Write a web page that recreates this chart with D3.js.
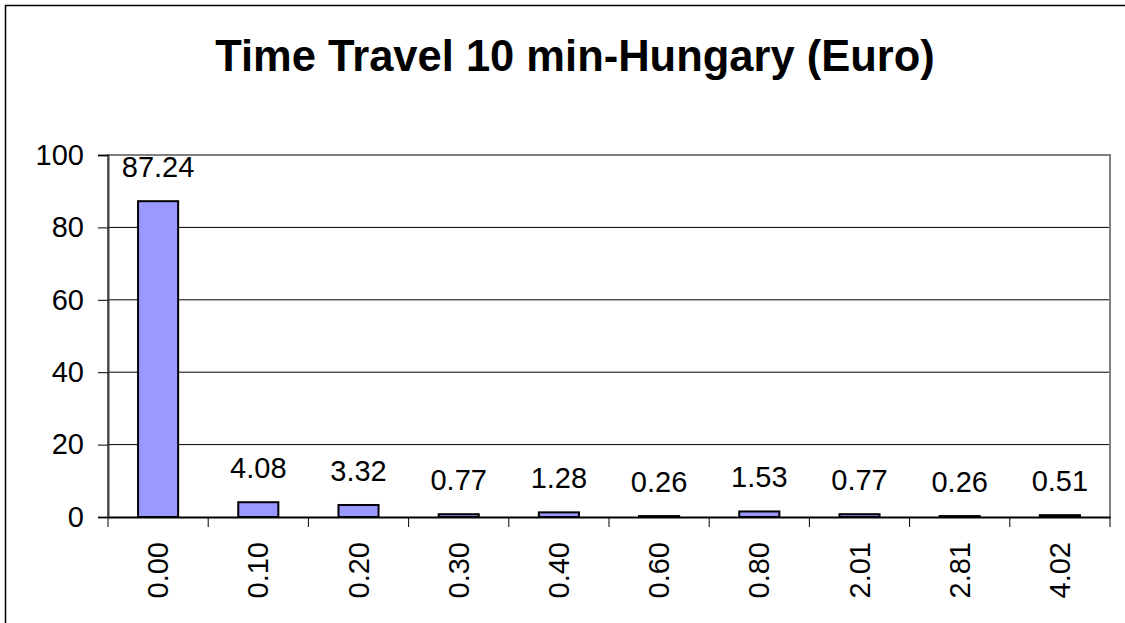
<!DOCTYPE html>
<html>
<head>
<meta charset="utf-8">
<script src="https://cdn.jsdelivr.net/npm/d3@7"></script>
<style>
	body { margin: 0; background: #fff; }
	text { font-family: 'Liberation Sans', Arial, sans-serif; }
</style>
</head>
<body>
<div id="chart"></div>
<script>
// Data
const categories = ['0.00', '0.10', '0.20', '0.30', '0.40', '0.60', '0.80', '2.01', '2.81', '4.02']
const values = [87.24, 4.08, 3.32, 0.77, 1.28, 0.26, 1.53, 0.77, 0.26, 0.51]
const yTicks = [0, 20, 40, 60, 80, 100]
const title = 'Time Travel 10 min-Hungary (Euro)'

function draw() {
	const dataset = categories.map((c, i) => ({ cat: c, value: values[i] }))

	// Dimensions
	let dimensions = {
		width: 1125,
		height: 623,
		margin: {
			top: 155,
			bottom: 106,
			left: 108,
			right: 15
		}
	}
	dimensions.ctrWidth = dimensions.width - dimensions.margin.left - dimensions.margin.right
	dimensions.ctrHeight = dimensions.height - dimensions.margin.top - dimensions.margin.bottom

	const svg = d3.select('#chart')
		.append('svg')
		.attr('width', dimensions.width)
		.attr('height', dimensions.height)

	// outer frame (only left and top visible)
	svg.append('path')
		.attr('d', 'M5.5,630 V5.5 H1130')
		.attr('fill', 'none')
		.attr('stroke', '#000')
		.attr('stroke-width', 1.5)

	svg.append('text')
		.attr('x', 575)
		.attr('y', 71)
		.attr('text-anchor', 'middle')
		.attr('font-size', 43.5)
		.attr('font-weight', 'bold')
		.text(title)

	const ctr = svg.append('g')
		.attr('transform', `translate(${dimensions.margin.left}, ${dimensions.margin.top})`)

	// Scales
	const xScale = d3.scaleBand()
		.domain(categories)
		.range([0, dimensions.ctrWidth])

	const yScale = d3.scaleLinear()
		.domain([0, 100])
		.range([dimensions.ctrHeight, 0])

	// gridlines
	ctr.selectAll('.grid')
		.data(yTicks.filter(t => t > 0 && t < 100))
		.join('line')
		.attr('x1', 0)
		.attr('x2', dimensions.ctrWidth)
		.attr('y1', d => yScale(d))
		.attr('y2', d => yScale(d))
		.attr('stroke', '#000')
		.attr('stroke-width', 1)

	// plot border
	ctr.append('path')
		.attr('d', `M0,${dimensions.ctrHeight} V0 H${dimensions.ctrWidth} V${dimensions.ctrHeight}`)
		.attr('fill', 'none')
		.attr('stroke', '#808080')
		.attr('stroke-width', 2)

	// bars
	const bw = xScale.bandwidth() * 0.4
	ctr.selectAll('rect')
		.data(dataset)
		.join('rect')
		.attr('x', d => xScale(d.cat) + xScale.bandwidth() / 2 - bw / 2)
		.attr('y', d => yScale(d.value))
		.attr('width', bw)
		.attr('height', d => dimensions.ctrHeight - yScale(d.value))
		.attr('fill', '#9999ff')
		.attr('stroke', '#000')
		.attr('stroke-width', 2)

	// value labels
	ctr.selectAll('.lbl')
		.data(dataset)
		.join('text')
		.attr('x', d => xScale(d.cat) + xScale.bandwidth() / 2)
		.attr('y', d => yScale(d.value) - 24)
		.attr('text-anchor', 'middle')
		.attr('font-size', 29)
		.text(d => d.value.toFixed(2))

	// Axes
	const yAxis = d3.axisLeft(yScale)
		.tickValues(yTicks)
		.tickSize(10)
		.tickPadding(14)
	const yG = ctr.append('g').call(yAxis)
	yG.select('.domain').attr('stroke', '#404040').attr('stroke-width', 2)
	yG.selectAll('.tick line').attr('stroke', '#000')
	yG.selectAll('text').attr('font-size', 29).attr('font-family', "'Liberation Sans', Arial, sans-serif").attr('fill', '#000')

	const xAxis = d3.axisBottom(xScale).tickSize(0).tickFormat(d => d)
	const xG = ctr.append('g')
		.attr('transform', `translate(0, ${dimensions.ctrHeight})`)
		.call(xAxis)
	xG.select('.domain').attr('stroke', '#000').attr('stroke-width', 2)
	xG.selectAll('text')
		.attr('font-size', 29)
		.attr('font-family', "'Liberation Sans', Arial, sans-serif")
		.attr('fill', '#000')
		.attr('transform', 'rotate(-90)')
		.attr('text-anchor', 'end')
		.attr('x', -25)
		.attr('y', 0)
		.attr('dy', '0.35em')

	// category separators
	ctr.selectAll('.sep')
		.data(d3.range(categories.length + 1))
		.join('line')
		.attr('x1', i => i * xScale.step())
		.attr('x2', i => i * xScale.step())
		.attr('y1', dimensions.ctrHeight)
		.attr('y2', dimensions.ctrHeight + 10)
		.attr('stroke', '#000')
}

draw()
</script>
</body>
</html>
